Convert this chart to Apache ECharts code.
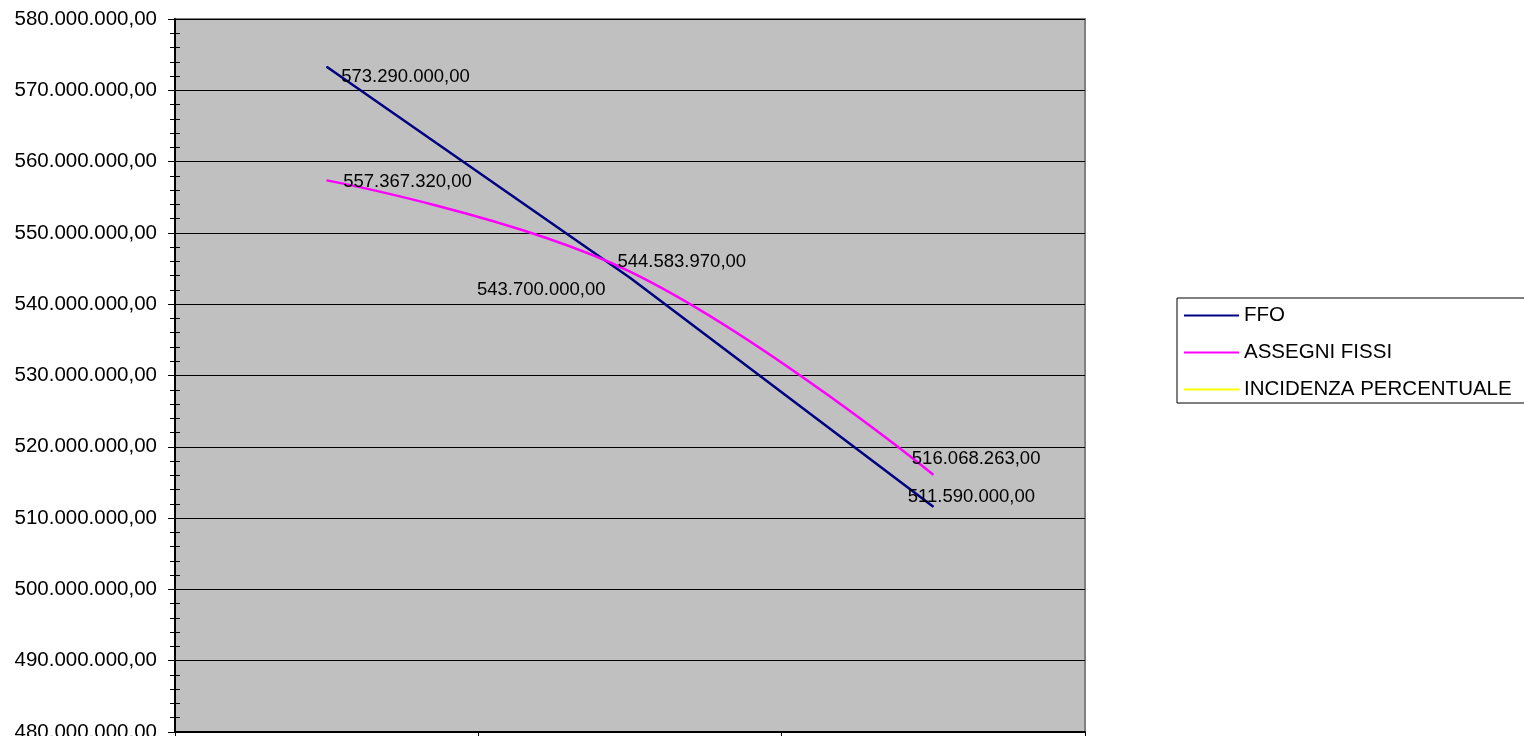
<!DOCTYPE html>
<html>
<head>
<meta charset="utf-8">
<script src="https://cdn.jsdelivr.net/npm/echarts@6/dist/echarts.min.js"></script>
<style>
html,body{margin:0;padding:0;background:#fff;}
#c{width:1524px;height:736px;}
</style>
</head>
<body>
<div id="c"></div>
<script>
// ---- data ----
const categories = ['1', '2', '3'];
const ffo = [573290000, 543700000, 511590000];
const assegniFissi = [557367320, 544583970, 516068263];
const incidenzaPercentuale = []; // values fall outside the plotted range
const yTicks = { min: 480000000, max: 580000000, interval: 10000000 };

// label placement (not data)
const ffoLabelPos = ['right', 'left', 'right'];
const ffoLabelOff = [[9, 10], [-19, 12], [-31, -10]];
const afLabelPos = ['right', 'right', 'right'];
const afLabelOff = [[11, 2], [-18, -10], [-27, -16]];

function fmt(v) {
  const s = Math.round(v).toString();
  return s.replace(/\B(?=(\d{3})+(?!\d))/g, '.') + ',00';
}
const FONT = '"Liberation Sans", Arial, sans-serif';

function withLabels(vals, pos, off) {
  return vals.map((v, i) => ({
    value: v,
    label: { show: true, position: pos[i], offset: off[i], distance: 5 }
  }));
}

const chart = echarts.init(document.getElementById('c'), null, { renderer: 'canvas' });
const gridBox = { left: 175, right: 439, top: 19, bottom: 4, outerBoundsMode: 'none', containLabel: false };
chart.setOption({
  animation: false,
  textStyle: { fontFamily: FONT },
  grid: [
    Object.assign({ show: true, backgroundColor: '#C0C0C0', borderColor: '#808080', borderWidth: 2 }, gridBox),
    Object.assign({ show: false }, gridBox)
  ],
  legend: {
    orient: 'vertical',
    left: 1177, top: 298,
    padding: [7, 30, 3, 7],
    borderColor: '#000', borderWidth: 1,
    backgroundColor: '#fff',
    itemWidth: 55, itemHeight: 20, itemGap: 16,
    icon: 'path://M0,9 L55,9 L55,11 L0,11 Z',
    textStyle: { fontFamily: FONT, fontSize: 20.5, color: '#000' },
    data: [
      { name: 'FFO', itemStyle: { color: '#000080' } },
      { name: 'ASSEGNI FISSI', itemStyle: { color: '#FF00FF' } },
      { name: 'INCIDENZA PERCENTUALE', itemStyle: { color: '#FFFF00' } }
    ]
  },
  xAxis: [
    {
      gridIndex: 0, type: 'category', data: categories, boundaryGap: true,
      axisLine: { show: true, lineStyle: { color: '#000', width: 2 } },
      axisTick: { show: true, alignWithLabel: false, length: 8, lineStyle: { color: '#000', width: 1 } },
      axisLabel: { show: false },
      splitLine: { show: false }
    },
    {
      gridIndex: 1, type: 'category', data: categories, show: false
    }
  ],
  yAxis: [
    {
      gridIndex: 0, type: 'value', min: yTicks.min, max: yTicks.max, interval: yTicks.interval,
      axisLine: { show: true, lineStyle: { color: '#000', width: 2 } },
      axisTick: { show: true, length: 7, lineStyle: { color: '#000', width: 1 } },
      minorTick: { show: true, splitNumber: 5, length: 5, lineStyle: { color: '#000', width: 1 } },
      axisLabel: { show: true, margin: 18, fontSize: 20.5, color: '#000', fontFamily: FONT, formatter: fmt },
      splitLine: { show: true, lineStyle: { color: '#000', width: 1 } }
    },
    {
      gridIndex: 1, type: 'value', min: yTicks.min, max: yTicks.max, interval: yTicks.interval,
      axisLine: { show: false },
      axisTick: { show: false, inside: true },
      minorTick: { show: true, splitNumber: 5, length: 5, lineStyle: { color: '#000', width: 1 } },
      axisLabel: { show: false },
      splitLine: { show: false }
    }
  ],
  series: [
    {
      name: 'FFO', type: 'line', xAxisIndex: 0, yAxisIndex: 0,
      data: withLabels(ffo, ffoLabelPos, ffoLabelOff),
      symbol: 'circle', symbolSize: 1, showSymbol: true, smooth: false,
      lineStyle: { color: '#000080', width: 2.5 },
      itemStyle: { color: '#000080' },
      label: { show: true, color: '#000', fontSize: 18.5, fontFamily: FONT, formatter: p => fmt(p.value) },
      z: 3
    },
    {
      name: 'ASSEGNI FISSI', type: 'line', xAxisIndex: 0, yAxisIndex: 0,
      data: withLabels(assegniFissi, afLabelPos, afLabelOff),
      symbol: 'circle', symbolSize: 1, showSymbol: true, smooth: 0.4,
      lineStyle: { color: '#FF00FF', width: 2.5 },
      itemStyle: { color: '#FF00FF' },
      label: { show: true, color: '#000', fontSize: 18.5, fontFamily: FONT, formatter: p => fmt(p.value) },
      z: 3
    },
    {
      name: 'INCIDENZA PERCENTUALE', type: 'line', xAxisIndex: 0, yAxisIndex: 0,
      data: incidenzaPercentuale,
      symbol: 'none',
      lineStyle: { color: '#FFFF00', width: 2.5 },
      itemStyle: { color: '#FFFF00' }
    }
  ]
});
</script>
</body>
</html>
